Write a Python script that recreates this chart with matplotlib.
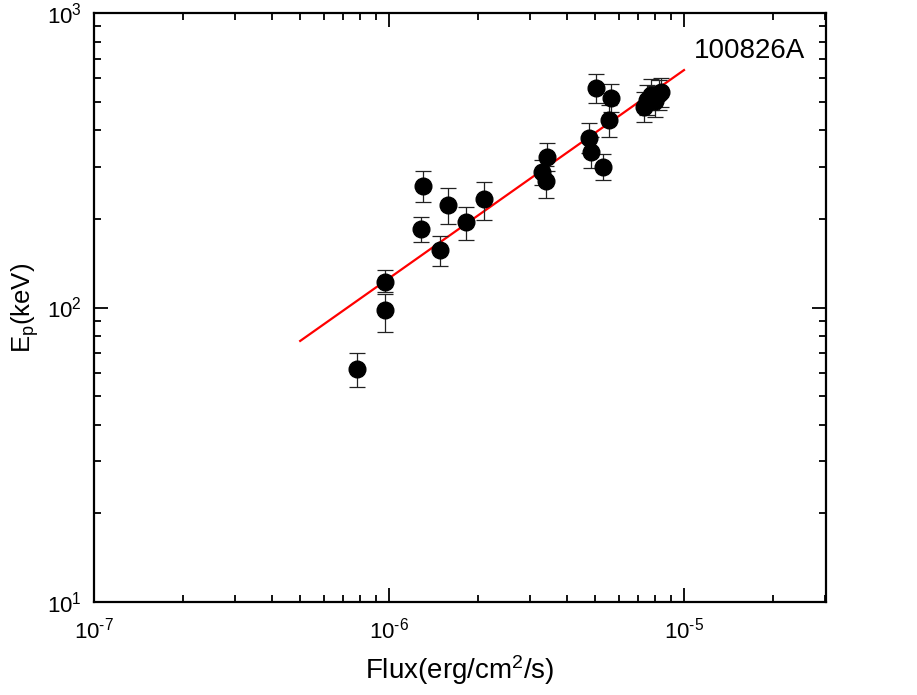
import matplotlib
matplotlib.use('Agg')
import matplotlib.pyplot as plt
import numpy as np

plt.rcParams['font.family'] = ['Liberation Sans', 'DejaVu Sans']
plt.rcParams['mathtext.fontset'] = 'custom'
plt.rcParams['mathtext.rm'] = 'Liberation Sans'
plt.rcParams['mathtext.it'] = 'Liberation Sans:italic'
plt.rcParams['mathtext.default'] = 'regular'

# flux (erg/cm2/s), Ep (keV) with lower / upper error bar ends
flux = [7.82e-7, 9.73e-7, 9.73e-7, 1.288e-6, 1.308e-6, 1.494e-6, 1.59e-6,
        1.83e-6, 2.10e-6, 3.44e-6, 3.31e-6, 3.41e-6, 4.77e-6, 4.84e-6,
        5.32e-6, 5.04e-6, 5.66e-6, 5.57e-6, 7.32e-6, 7.49e-6, 7.73e-6,
        7.98e-6, 8.23e-6, 8.36e-6]
ep = [61.8, 122, 98, 185, 259, 157, 223, 195, 234, 324, 288, 269, 376, 337,
      300, 556, 514, 433, 480, 507, 527, 502, 531, 539]
ep_lo = [53.7, 113, 82.6, 167, 228, 138, 192, 170, 198, 291, 261, 235, 335,
         298, 271, 495, 461, 379, 427, 450, 470, 445, 470, 480]
ep_hi = [70.1, 134, 111, 203, 291, 175, 255, 219, 267, 362, 317, 302, 423,
         380, 332, 621, 574, 487, 540, 570, 597, 565, 590, 600]

# best-fit line end points
fit_flux = [5e-7, 1e-5]
fit_ep = [77, 640]

grb_name = '100826A'

xticks = [1e-7, 1e-6, 1e-5]
xtick_labels = ['$10^{\u20107}$', '$10^{\u20106}$', '$10^{\u20105}$']
yticks = [10, 100, 1000]
ytick_labels = ['$10^{1}$', '$10^{2}$', '$10^{3}$']

fig = plt.figure(figsize=(9.17, 6.95), dpi=100)
ax = fig.add_axes([0.1025, 0.1338, 0.7983, 0.8475])

ax.plot(fit_flux, fit_ep, color='red', lw=1.6, zorder=2)

yerr = [np.array(ep) - np.array(ep_lo), np.array(ep_hi) - np.array(ep)]
ax.errorbar(flux, ep, yerr=yerr, fmt='o', color='black', ms=12,
            ecolor='#222222', elinewidth=0.9, capsize=6, capthick=0.9,
            zorder=3)

ax.text(1.08e-5, 745, grb_name, fontsize=20, ha='left', va='center')

ax.set_xscale('log')
ax.set_yscale('log')
ax.set_xlim(1e-7, 3.03e-5)
ax.set_ylim(10, 1000)
ax.set_xticks(xticks, xtick_labels)
ax.set_yticks(yticks, ytick_labels)

ax.set_xlabel('Flux(erg/cm$^{2}$/s)', fontsize=20, labelpad=7)
ax.set_ylabel('E$_{p}$(keV)', fontsize=18.5, labelpad=4)

ax.tick_params(which='both', direction='in', top=True, right=True,
               width=1.3, labelsize=16, pad=9)
ax.tick_params(axis='x', which='both', pad=11)
ax.tick_params(which='major', length=10)
ax.tick_params(which='minor', length=5)
for s in ax.spines.values():
    s.set_linewidth(1.6)

fig.savefig('out.png', dpi=100)
